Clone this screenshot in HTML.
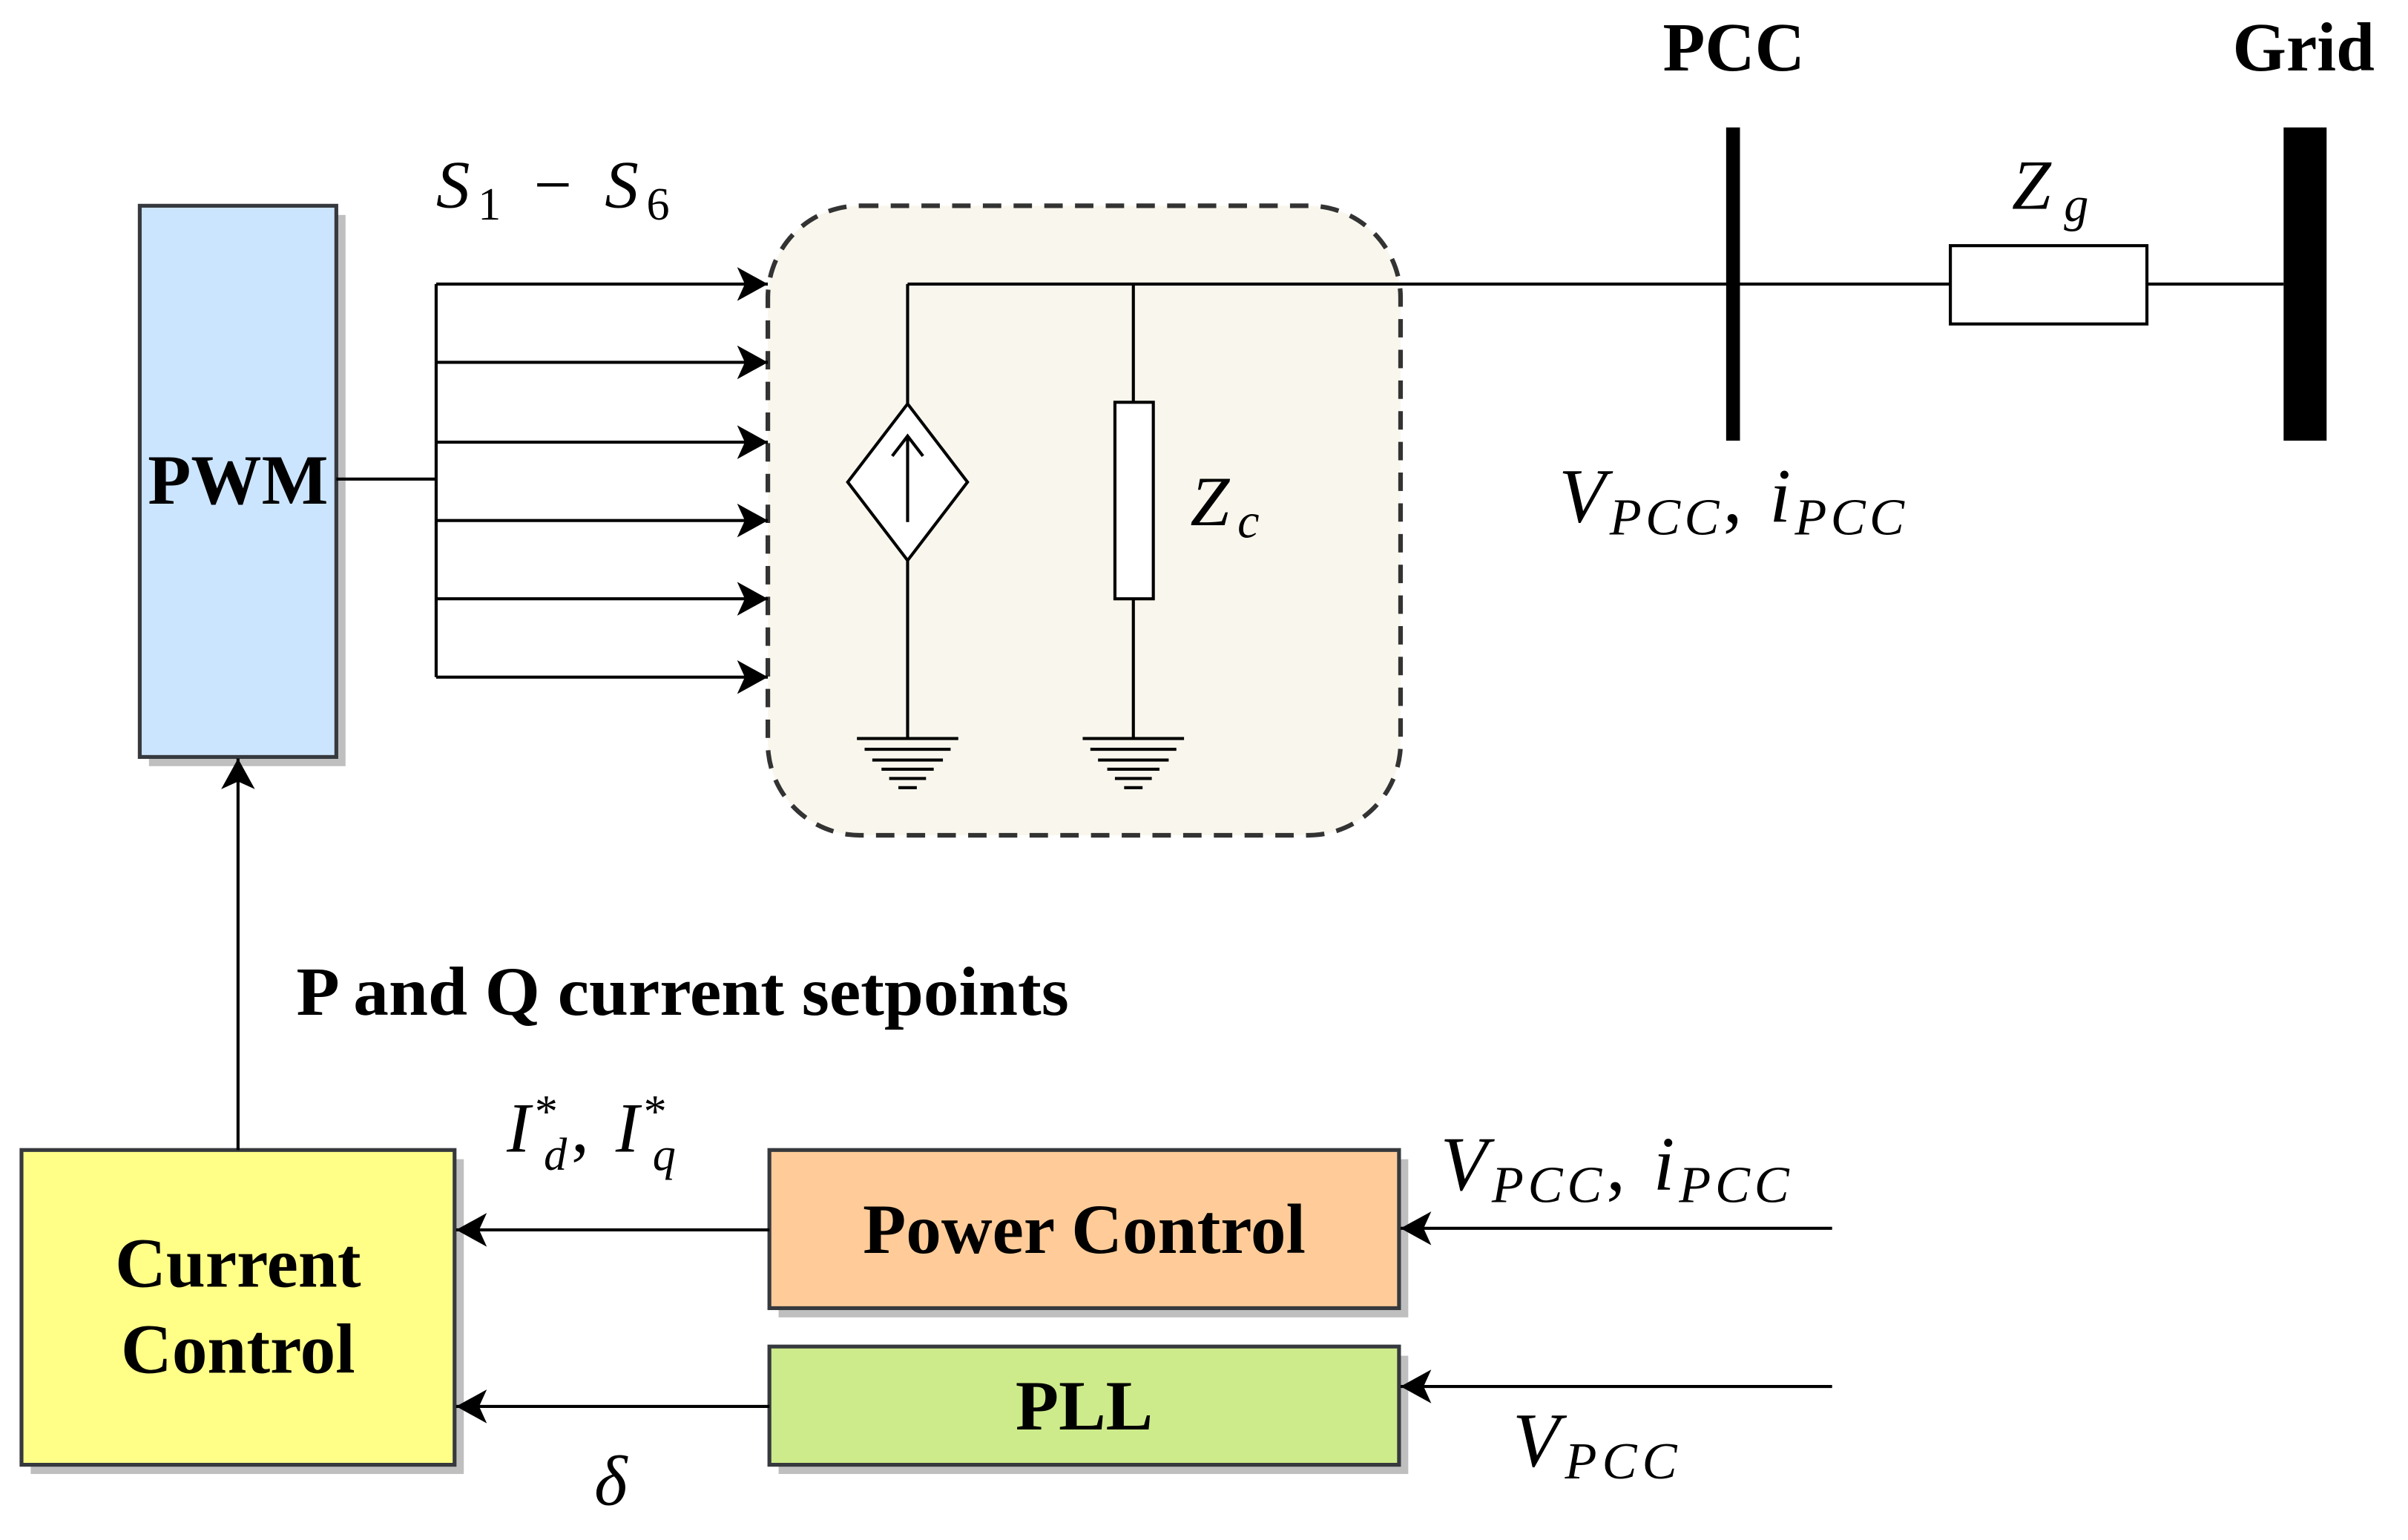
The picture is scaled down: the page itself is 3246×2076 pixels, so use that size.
<!DOCTYPE html>
<html><head><meta charset="utf-8"><style>
html,body{margin:0;padding:0;background:#fff;}
svg{display:block;}
.b{font-family:"Liberation Serif",serif;font-weight:bold;fill:#000;}
.m{font-family:"Liberation Serif",serif;font-style:italic;fill:#000;}
</style></head><body>
<svg width="3246" height="2076" viewBox="0 0 1568 1003" preserveAspectRatio="none" xmlns="http://www.w3.org/2000/svg">
<defs>
<marker id="ar2" markerWidth="22" markerHeight="22" refX="20" refY="11" orient="auto" markerUnits="userSpaceOnUse">
<path d="M0,0 L20,11 L0,22 L5,11 Z" fill="#000"/>
</marker>
</defs>
<rect x="500" y="134" width="412" height="410" rx="60" fill="#f9f7ed" stroke="#333" stroke-width="3" stroke-dasharray="12,8"/>
<rect x="97" y="140" width="128" height="359" fill="#bfbfbf"/>
<rect x="91" y="134" width="128" height="359" fill="#cce5ff" stroke="#36393d" stroke-width="2.5"/>
<text x="155" y="328" class="b" font-size="46" text-anchor="middle">PWM</text>
<g stroke="#000" stroke-width="2" fill="none">
<line x1="219" y1="312" x2="284" y2="312"/>
<line x1="284" y1="185" x2="284" y2="441"/>
<line x1="284" y1="185" x2="500" y2="185" marker-end="url(#ar2)"/>
<line x1="284" y1="236" x2="500" y2="236" marker-end="url(#ar2)"/>
<line x1="284" y1="288" x2="500" y2="288" marker-end="url(#ar2)"/>
<line x1="284" y1="339" x2="500" y2="339" marker-end="url(#ar2)"/>
<line x1="284" y1="390" x2="500" y2="390" marker-end="url(#ar2)"/>
<line x1="284" y1="441" x2="500" y2="441" marker-end="url(#ar2)"/>
</g>
<text x="284" y="135" class="m" font-size="44" textLength="152" lengthAdjust="spacing">S<tspan font-size="30" dy="8" font-style="normal">1</tspan><tspan dy="-8" font-style="normal"> − </tspan>S<tspan font-size="30" dy="8" font-style="normal">6</tspan></text>
<g stroke="#000" stroke-width="2" fill="none">
<line x1="591" y1="185" x2="1270" y2="185"/>
<line x1="591" y1="185" x2="591" y2="263"/>
<path d="M591,263 L630,314 L591,365 L552,314 Z" fill="#fff"/>
<line x1="591" y1="340" x2="591" y2="284"/>
<path d="M581,297 L591,284 L601,297"/>
<line x1="591" y1="365" x2="591" y2="480"/>
<line x1="738" y1="185" x2="738" y2="262"/>
<rect x="726" y="262" width="25" height="128" fill="#fff"/>
<line x1="738" y1="390" x2="738" y2="480"/>
<rect x="1270" y="160" width="128" height="51" fill="#fff"/>
<line x1="1398" y1="185" x2="1487" y2="185"/>
</g>
<g stroke="#000" stroke-width="2">
<line x1="558" y1="481" x2="624" y2="481"/><line x1="563" y1="488" x2="619" y2="488"/><line x1="568" y1="495" x2="614" y2="495"/><line x1="574" y1="501" x2="608" y2="501"/><line x1="579" y1="507" x2="603" y2="507"/><line x1="585" y1="513" x2="597" y2="513"/>
<line x1="705" y1="481" x2="771" y2="481"/><line x1="710" y1="488" x2="766" y2="488"/><line x1="715" y1="495" x2="761" y2="495"/><line x1="721" y1="501" x2="755" y2="501"/><line x1="726" y1="507" x2="750" y2="507"/><line x1="732" y1="513" x2="744" y2="513"/>
</g>
<text x="775" y="342" class="m" font-size="46" textLength="45" lengthAdjust="spacing">Z<tspan font-size="32" dy="8">c</tspan></text>
<rect x="1124" y="83" width="9" height="204" fill="#000"/>
<rect x="1487" y="83" width="28" height="204" fill="#000"/>
<text x="1129" y="46" class="b" font-size="45" text-anchor="middle">PCC</text>
<text x="1500" y="46" class="b" font-size="45" text-anchor="middle">Grid</text>
<text x="1310" y="136" class="m" font-size="46" textLength="50" lengthAdjust="spacing">Z<tspan font-size="32" dy="8">g</tspan></text>
<text x="1015" y="340" class="m" font-size="50" textLength="225" lengthAdjust="spacing">V<tspan font-size="34" dy="8">PCC</tspan><tspan dy="-8" font-style="normal">, </tspan>i<tspan font-size="34" dy="8">PCC</tspan></text>
<rect x="20" y="755" width="282" height="205" fill="#bfbfbf"/>
<rect x="14" y="749" width="282" height="205" fill="#ffff88" stroke="#36393d" stroke-width="2.5"/>
<text x="155" y="838" class="b" font-size="46" text-anchor="middle">Current</text>
<text x="155" y="894" class="b" font-size="46" text-anchor="middle">Control</text>
<rect x="507" y="755" width="410" height="103" fill="#bfbfbf"/>
<rect x="501" y="749" width="410" height="103" fill="#ffcc99" stroke="#36393d" stroke-width="2.5"/>
<text x="706" y="816" class="b" font-size="46" text-anchor="middle">Power Control</text>
<rect x="507" y="883" width="410" height="77" fill="#bfbfbf"/>
<rect x="501" y="877" width="410" height="77" fill="#cdeb8b" stroke="#36393d" stroke-width="2.5"/>
<text x="706" y="931" class="b" font-size="46" text-anchor="middle">PLL</text>
<g stroke="#000" stroke-width="2" fill="none">
<line x1="155" y1="749" x2="155" y2="494" marker-end="url(#ar2)"/>
<line x1="501" y1="801" x2="297" y2="801" marker-end="url(#ar2)"/>
<line x1="501" y1="916" x2="297" y2="916" marker-end="url(#ar2)"/>
<line x1="1193" y1="800" x2="912" y2="800" marker-end="url(#ar2)"/>
<line x1="1193" y1="903" x2="912" y2="903" marker-end="url(#ar2)"/>
</g>
<text x="193" y="661" class="b" font-size="45" textLength="503" lengthAdjust="spacingAndGlyphs">P and Q current setpoints</text>
<text x="330" y="750" class="m" font-size="46" textLength="110" lengthAdjust="spacing">I<tspan font-size="30" dy="-16" font-style="normal">*</tspan><tspan font-size="30" dx="-12" dy="28">d</tspan><tspan dy="-12" font-style="normal">, </tspan>I<tspan font-size="30" dy="-16" font-style="normal">*</tspan><tspan font-size="30" dx="-12" dy="28">q</tspan></text>
<text x="387" y="980" class="m" font-size="46">δ</text>
<text x="938" y="775" class="m" font-size="50" textLength="227" lengthAdjust="spacing">V<tspan font-size="34" dy="8">PCC</tspan><tspan dy="-8" font-style="normal">, </tspan>i<tspan font-size="34" dy="8">PCC</tspan></text>
<text x="985" y="955" class="m" font-size="50" textLength="107" lengthAdjust="spacing">V<tspan font-size="34" dy="8">PCC</tspan></text>
</svg>
</body></html>
